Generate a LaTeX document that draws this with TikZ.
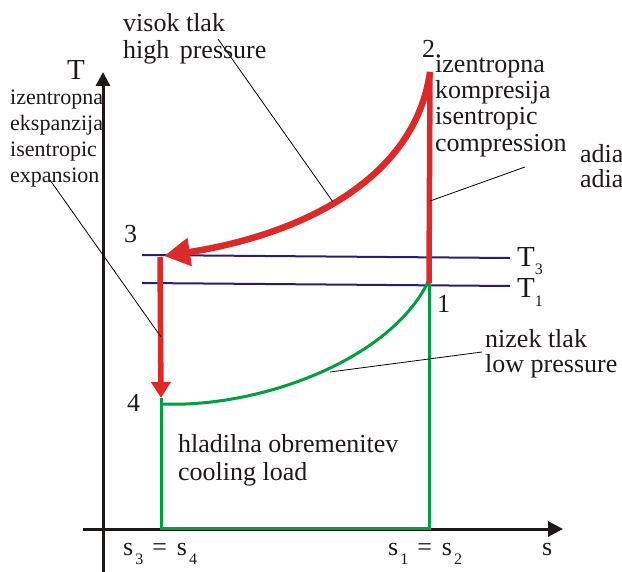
\documentclass[tikz,border=0pt]{standalone}
\usepackage{fontspec}
\setmainfont{Liberation Serif}
\usetikzlibrary{arrows.meta}
\definecolor{rd}{RGB}{221,42,40}
\definecolor{gn}{RGB}{0,160,64}
\definecolor{bl}{RGB}{40,30,115}
\definecolor{ax}{RGB}{30,25,25}
\begin{document}
\begin{tikzpicture}[x=1pt,y=-1pt,
  lbl/.style={anchor=base west,inner sep=0pt,font=\fontsize{26}{27}\selectfont,text=ax},
  slbl/.style={anchor=base west,inner sep=0pt,font=\fontsize{22}{26}\selectfont,text=ax},
  tlbl/.style={anchor=base west,inner sep=0pt,font=\fontsize{29}{30}\selectfont,text=ax},
  leader/.style={black,line width=0.8pt},
  axisl/.style={ax,line width=3pt},
  redl/.style={rd,line width=5.5pt},
  redc/.style={rd,line width=6.5pt},
  greenl/.style={gn,line width=3pt},
  bluel/.style={bl,line width=2pt}]
\useasboundingbox (0,0) rectangle (622,572);
% axes
\coordinate (tbot) at (103,572);
\coordinate (ttop) at (103,72);
\coordinate (sleft) at (83,529);
\coordinate (sright) at (563,529);
\draw[axisl,-{Triangle[length=14pt,width=14pt]}] (tbot) -- (ttop);
\draw[axisl,-{Triangle[length=15pt,width=15pt]}] (sleft) -- (sright);
% isotherms
\coordinate (t3a) at (142,255);
\coordinate (t3b) at (510,258);
\coordinate (t1a) at (142,283);
\coordinate (t1b) at (510,286);
\draw[bluel] (t3a) -- (t3b);
\draw[bluel] (t1a) -- (t1b);
% state points
\coordinate (p2) at (430,72);
\coordinate (p1) at (429,283);
\coordinate (p3) at (160,257);
\coordinate (p3tip) at (164,256);
\coordinate (p4) at (161,398);
\coordinate (p4c) at (162,404);
\coordinate (b4) at (161,528);
\coordinate (b1) at (429,528);
% green cycle part
\draw[greenl] (p4) -- (b4) -- (b1) -- (p1);
\draw[greenl] (p4c) .. controls (260,408) and (390,360) .. (428,282);
% red processes
\draw[redl] (p1) -- (p2);
\draw[redc,-{Triangle[length=26pt,width=27pt]}] (p2) .. controls (415,180) and (300,235) .. (p3tip);
\draw[redl,-{Triangle[length=16pt,width=19pt]}] (p3) -- (p4);
% leaders
\coordinate (hpA) at (218,39);
\coordinate (hpB) at (333,202);
\coordinate (adA) at (525,167);
\coordinate (adB) at (430,201);
\coordinate (exA) at (50,180);
\coordinate (exB) at (161,337);
\coordinate (lpA) at (482,352);
\coordinate (lpB) at (330,372);
\draw[leader] (hpA) -- (hpB);
\draw[leader] (adA) -- (adB);
\draw[leader] (exA) -- (exB);
\draw[leader] (lpA) -- (lpB);
% labels
\node[tlbl] (tlab) at (67,80) {T};
\node[lbl] (n2) at (422,58) {2.};
\node[lbl] (n1) at (437,313) {1};
\node[lbl] (n3) at (124,243) {3};
\node[lbl] (n4) at (127,412) {4};
\node[tlbl] (lt3) at (517,267) {T\raisebox{-8pt}{\fontsize{16}{16}\selectfont 3}};
\node[tlbl] (lt1) at (517,298) {T\raisebox{-9pt}{\fontsize{16}{16}\selectfont 1}};
\node[lbl] (hp1) at (123,32) {visok tlak};
\node[lbl] (hp2) at (123,59) {high\hspace{0.4em}pressure};
\node[lbl] (ic1) at (435,73) {izentropna};
\node[lbl] (ic2) at (435,99) {kompresija};
\node[lbl] (ic3) at (435,125) {isentropic};
\node[lbl] (ic4) at (435,152) {compression};
\node[lbl] (ad1) at (580,163) {adia};
\node[lbl] (ad2) at (580,188) {adia};
\node[slbl] (ie1) at (10,105) {izentropna};
\node[slbl] (ie2) at (10,131) {ekspanzija};
\node[slbl] (ie3) at (10,157) {isentropic};
\node[slbl] (ie4) at (10,183) {expansion};
\node[lbl] (lp1) at (485,348) {nizek tlak};
\node[lbl] (lp2) at (485,373) {low pressure};
\node[lbl] (cl1) at (178,453) {hladilna obremenitev};
\node[lbl] (cl2) at (178,480) {cooling load};
\node[lbl] (s34) at (123,555) {s\kern2pt\raisebox{-9pt}{\fontsize{16}{16}\selectfont 3}\hspace{9pt}=\hspace{10pt}s\kern2pt\raisebox{-9pt}{\fontsize{16}{16}\selectfont 4}};
\node[lbl] (s12) at (388,555) {s\kern2pt\raisebox{-9pt}{\fontsize{16}{16}\selectfont 1}\hspace{9pt}=\hspace{10pt}s\kern2pt\raisebox{-9pt}{\fontsize{16}{16}\selectfont 2}};
\node[lbl] (slab) at (542,555) {s};
\end{tikzpicture}
\end{document}
